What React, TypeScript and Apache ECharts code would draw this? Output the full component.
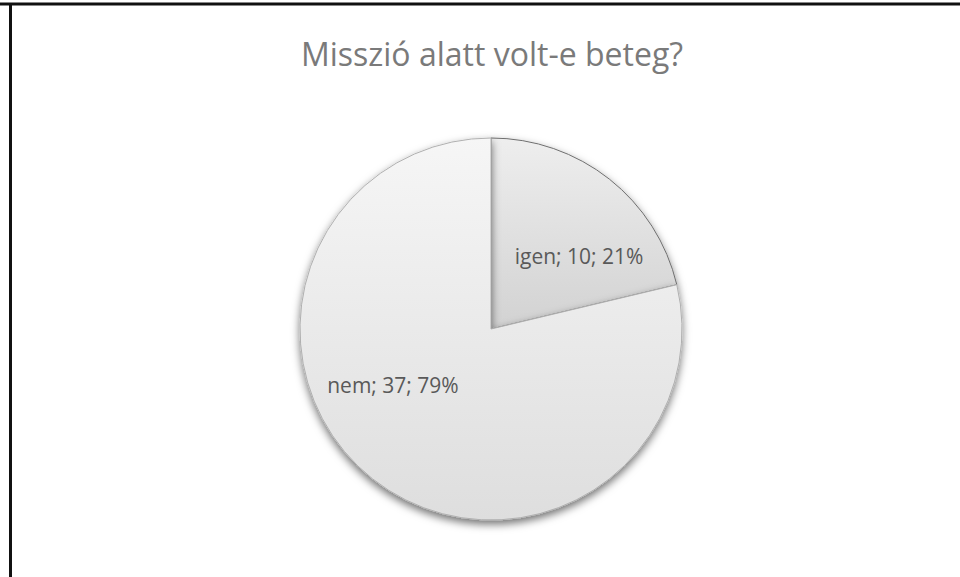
import React, { useEffect, useRef } from "react";
import * as echarts from "echarts";

const titleText = "Misszió alatt volt-e beteg?";
const categories = ["igen", "nem"];
const values = [10, 37];

export default function App() {
  const ref = useRef<HTMLDivElement>(null);
  useEffect(() => {
    if (!ref.current) return;
    const chart = echarts.init(ref.current, undefined, { renderer: "svg" });
    const fills = [
      new echarts.graphic.LinearGradient(0, 0, 0, 1, [
        { offset: 0, color: "#eeeeee" },
        { offset: 1, color: "#d2d2d2" },
      ]),
      new echarts.graphic.LinearGradient(0, 0, 0, 1, [
        { offset: 0, color: "#f6f6f6" },
        { offset: 1, color: "#dedede" },
      ]),
    ];
    const borders = ["#6f6f6f", "#b0b0b0"];
    const labelShift = [
      [27, 4],
      [-37, -21],
    ];
    chart.setOption({
      animation: false,
      backgroundColor: "#ffffff",
      title: {
        text: titleText,
        left: 487,
        top: 32,
        textAlign: "center",
        textStyle: {
          fontFamily: "Open Sans",
          fontSize: 32,
          fontWeight: "normal",
          color: "#7a7a7a",
        },
      },
      graphic: [
        {
          type: "line",
          shape: { x1: 0, y1: 4, x2: 960, y2: 4 },
          style: { stroke: "#111111", lineWidth: 3 },
        },
        {
          type: "line",
          shape: { x1: 10.5, y1: 3, x2: 10.5, y2: 577 },
          style: { stroke: "#111111", lineWidth: 3 },
        },
      ],
      series: [
        {
          type: "pie",
          center: [491, 329],
          radius: 191,
          startAngle: 90,
          clockwise: true,
          percentPrecision: 0,
          label: {
            show: true,
            position: "inside",
            formatter: "{b}; {c}; {d}%",
            fontFamily: "Open Sans",
            fontSize: 21,
            color: "#595959",
          },
          labelLine: { show: false },
          labelLayout: (p: any) => ({
            dx: labelShift[p.dataIndex][0],
            dy: labelShift[p.dataIndex][1],
          }),
          emphasis: { disabled: true },
          data: categories.map((c, i) => ({
            name: c,
            value: values[i],
            itemStyle: {
              color: fills[i],
              borderColor: borders[i],
              borderWidth: 1,
              shadowBlur: 9,
              shadowOffsetY: 4,
              shadowColor: "rgba(0,0,0,0.55)",
            },
          })),
        },
      ],
    });
    return () => chart.dispose();
  }, []);
  return (
    <div
      ref={ref}
      style={{ position: "absolute", left: 0, top: 0, width: 960, height: 577 }}
    />
  );
}
